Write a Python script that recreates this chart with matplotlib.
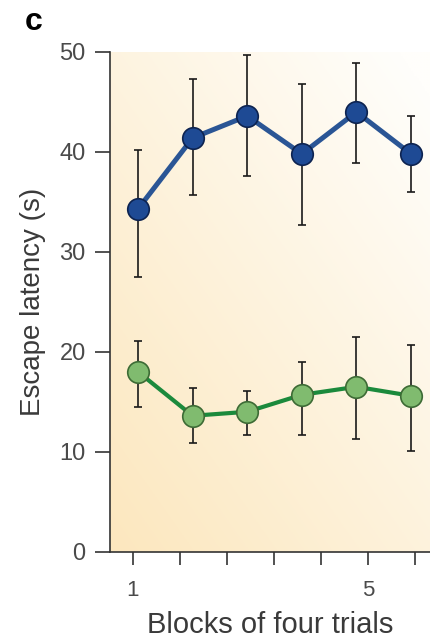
import matplotlib
matplotlib.use("Agg")
import matplotlib.pyplot as plt
import numpy as np

plt.rcParams['font.family'] = ['Liberation Sans', 'DejaVu Sans']

#  数据
blocks = [1, 2, 3, 4, 5, 6]
blue_mean = [34.3, 41.4, 43.6, 39.8, 44.0, 39.8]
blue_lo = [27.5, 35.7, 37.6, 32.7, 38.9, 36.0]
blue_hi = [40.2, 47.3, 49.7, 46.8, 48.9, 43.6]
green_mean = [18.0, 13.6, 14.0, 15.7, 16.5, 15.6]
green_lo = [14.5, 10.9, 11.7, 11.7, 11.3, 10.1]
green_hi = [21.1, 16.4, 16.1, 19.0, 21.5, 20.7]
yticks = [0, 10, 20, 30, 40, 50]
xtick_labels = ['1', '', '', '', '', '5', '']

fig = plt.figure(figsize=(4.31, 6.39), dpi=100)
ax = fig.add_axes([110 / 431, 1 - 551.7 / 639, 1 - 110 / 431, (551.7 - 52) / 639])

x0, x1 = 0.487, 6.366
ax.set_xlim(x0, x1)
ax.set_ylim(0, 50)

# 背景渐变
gx, gy = np.meshgrid(np.linspace(0, 1, 200), np.linspace(0, 1, 200))
g = np.clip(0.5 * gx + 0.55 * gy, 0, 1)
c0 = np.array([252, 231, 190]) / 255
c1 = np.array([255, 254, 251]) / 255
img = c0[None, None, :] * (1 - g[..., None]) + c1[None, None, :] * g[..., None]
ax.imshow(img, extent=[x0, x1, 0, 50], origin='lower', aspect='auto', zorder=0)


def draw(mean, lo, hi, line_c, face_c, edge_c, lw):
    m = np.array(mean)
    err = [m - np.array(lo), np.array(hi) - m]
    ax.plot(blocks, mean, color=line_c, lw=lw, zorder=2, solid_capstyle='round')
    ax.errorbar(blocks, mean, yerr=err, fmt='none', ecolor='#1a1a1a', elinewidth=1.2,
                capsize=3, capthick=1.2, zorder=3)
    ax.plot(blocks, mean, 'o', ms=15.5, mfc=face_c, mec=edge_c, mew=1.2, zorder=4)


draw(blue_mean, blue_lo, blue_hi, '#2a5595', '#1e4a94', '#0d2350', 3.6)
draw(green_mean, green_lo, green_hi, '#1b8a3c', '#80bb6f', '#3d6b35', 3.0)

xt = 0.908 + 0.8608 * np.arange(7)
ax.set_xticks(xt)
ax.set_xticklabels(xtick_labels)
ax.set_yticks(yticks)

for s in ['top', 'right']:
    ax.spines[s].set_visible(False)
for s in ['left', 'bottom']:
    ax.spines[s].set_color('#333333')
    ax.spines[s].set_linewidth(1.2)

ax.tick_params(axis='y', length=10.5, width=1.2, color='#333333', labelsize=17,
               labelcolor='#4a4a4a', pad=7)
ax.tick_params(axis='x', length=9.5, width=1.2, color='#333333', labelsize=16,
               labelcolor='#4a4a4a', pad=11)

ax.set_xlabel('Blocks of four trials', fontsize=21, color='#3a3a3a', labelpad=7)
ax.set_ylabel('Escape latency (s)', fontsize=20, color='#3a3a3a', labelpad=10)

fig.text(0.077, 0.966, 'c', fontsize=23, fontweight='heavy', color='black',
         ha='center', va='center')

fig.savefig('out.png', dpi=100)
